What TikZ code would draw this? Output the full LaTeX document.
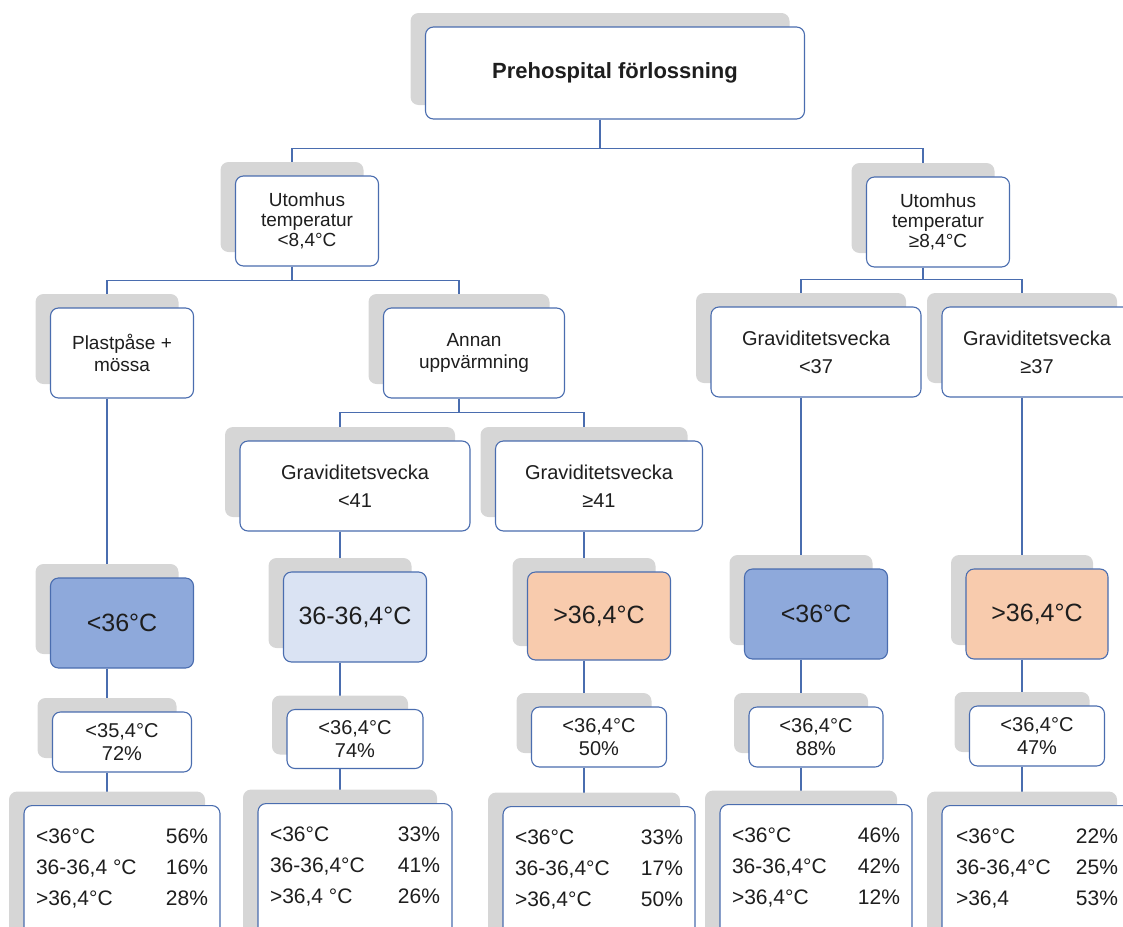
\documentclass[tikz,border=0pt]{standalone}
\usepackage{fontspec}
\setmainfont{Liberation Sans}
\usetikzlibrary{shadows, backgrounds, positioning}
\definecolor{linje}{HTML}{4A6DAF}
\definecolor{skugga}{HTML}{D6D6D6}
\definecolor{kall}{HTML}{8EA9DB}
\definecolor{ljus}{HTML}{DAE3F3}
\definecolor{varm}{HTML}{F8CBAD}
\definecolor{skrift}{HTML}{1E1E1E}
\renewcommand{\arraystretch}{1.476}

\begin{document}
\begin{tikzpicture}[x=1pt, y=-1pt,
	box/.style={draw=linje, line width=1.1pt, fill=white, rounded corners=8pt, text=skrift, inner sep=0pt,
		drop shadow={shadow xshift=-15pt, shadow yshift=14pt, fill=skugga, opacity=1}},
	lvl/.style={box, align=center, minimum height=90pt, font=\fontsize{19}{20}\selectfont},
	grav/.style={box, align=center, minimum height=90pt, font=\fontsize{20}{21}\selectfont},
	temp/.style={box, minimum width=143pt, minimum height=90pt, font=\fontsize{25}{30}\selectfont},
	andel/.style={box, align=center, minimum width=136pt, minimum height=60pt, font=\fontsize{20}{23}\selectfont},
	tabell/.style={box, anchor=north, inner xsep=12pt, inner ysep=16pt, text depth=110pt, font=\fontsize{21}{21}\selectfont},
	bus/.style={to path={-- ++(0,#1) -| (\tikztotarget)}},
	every edge/.style={draw=linje, line width=1.1pt}]

	\path[use as bounding box, clip] (0,0) rectangle (1123,926);

	\node[box, minimum width=379pt, minimum height=92pt, font=\fontsize{22}{26}\selectfont\bfseries] (1) at (615,73) {Prehospital förlossning};

	\node[lvl, minimum width=143pt] (2) at (307,221) {Utomhus\\temperatur\\<8,4°C};
	\node[lvl, minimum width=143pt] (3) at (938,222) {Utomhus\\temperatur\\≥8,4°C};

	\node[lvl, minimum width=143pt, font=\fontsize{19}{22}\selectfont] (4) at (122,353) {Plastpåse +\\mössa};
	\node[lvl, minimum width=181pt, font=\fontsize{19}{22}\selectfont] (5) at (474,353) {Annan\\uppvärmning};
	\node[grav, minimum width=210pt] (6) at (816,352) {Graviditetsvecka\\[7pt]<37};
	\node[grav, minimum width=190pt] (7) at (1037,352) {Graviditetsvecka\\[7pt]≥37};

	\node[grav, minimum width=230pt] (8) at (355,486) {Graviditetsvecka\\[7pt]<41};
	\node[grav, minimum width=207pt] (9) at (599,486) {Graviditetsvecka\\[7pt]≥41};

	\node[temp, fill=kall] (10) at (122,623) {<36°C};
	\node[temp, fill=ljus] (11) at (355,617) {36-36,4°C};
	\node[temp, fill=varm, minimum height=88pt] (12) at (599,616) {>36,4°C};
	\node[temp, fill=kall] (13) at (816,614) {<36°C};
	\node[temp, fill=varm, minimum width=142pt] (14) at (1037,614) {>36,4°C};

	\node[andel, minimum width=139pt] (15) at (122,742) {<35,4°C\\72\%};
	\node[andel, minimum height=59pt] (16) at (355,739) {<36,4°C\\74\%};
	\node[andel, minimum width=135pt] (17) at (599,737) {<36,4°C\\50\%};
	\node[andel, minimum width=134pt] (18) at (816,737) {<36,4°C\\88\%};
	\node[andel, minimum width=135pt] (19) at (1037,736) {<36,4°C\\47\%};

	\node[tabell] (20) at (122,805) {\begin{tabular*}{172pt}[t]{@{}l@{\extracolsep{\fill}}r@{}}
		<36°C & 56\%\\ 36-36,4 °C & 16\%\\ >36,4°C & 28\%\end{tabular*}};
	\node[tabell] (21) at (355,803) {\begin{tabular*}{170pt}[t]{@{}l@{\extracolsep{\fill}}r@{}}
		<36°C & 33\%\\ 36-36,4°C & 41\%\\ >36,4 °C & 26\%\end{tabular*}};
	\node[tabell] (22) at (599,806) {\begin{tabular*}{168pt}[t]{@{}l@{\extracolsep{\fill}}r@{}}
		<36°C & 33\%\\ 36-36,4°C & 17\%\\ >36,4°C & 50\%\end{tabular*}};
	\node[tabell] (23) at (816,804) {\begin{tabular*}{168pt}[t]{@{}l@{\extracolsep{\fill}}r@{}}
		<36°C & 46\%\\ 36-36,4°C & 42\%\\ >36,4°C & 12\%\end{tabular*}};
	\node[tabell, inner xsep=14pt] (24) at (1037,805) {\begin{tabular*}{162pt}[t]{@{}l@{\extracolsep{\fill}}r@{}}
		<36°C & 22\%\\ 36-36,4°C & 25\%\\ >36,4 & 53\%\end{tabular*}};

	\begin{scope}[on background layer]
	\path
	([xshift=-15pt]1.south) edge [bus=29] ([xshift=-15pt]2.center)
	([xshift=-15pt]1.south) edge [bus=29] ([xshift=-15pt]3.center)

	([xshift=-15pt]2.south) edge [bus=14] ([xshift=-15pt]4.center)
	([xshift=-15pt]2.south) edge [bus=14] ([xshift=-15pt]5.center)

	([xshift=-15pt]3.south) edge [bus=12] ([xshift=-15pt]6.center)
	([xshift=-15pt]3.south) edge [bus=12] ([xshift=-15pt]7.center)

	([xshift=-15pt]5.south) edge [bus=14] ([xshift=-15pt]8.center)
	([xshift=-15pt]5.south) edge [bus=14] ([xshift=-15pt]9.center)

	([xshift=-15pt]4.south) edge ([xshift=-15pt]10.center)
	([xshift=-15pt]8.south) edge ([xshift=-15pt]11.center)
	([xshift=-15pt]9.south) edge ([xshift=-15pt]12.center)
	([xshift=-15pt]6.south) edge ([xshift=-15pt]13.center)
	([xshift=-15pt]7.south) edge ([xshift=-15pt]14.center)

	([xshift=-15pt]10.south) edge ([xshift=-15pt]15.center)
	([xshift=-15pt]11.south) edge ([xshift=-15pt]16.center)
	([xshift=-15pt]12.south) edge ([xshift=-15pt]17.center)
	([xshift=-15pt]13.south) edge ([xshift=-15pt]18.center)
	([xshift=-15pt]14.south) edge ([xshift=-15pt]19.center)

	([xshift=-15pt]15.south) edge ([xshift=-15pt]20.center)
	([xshift=-15pt]16.south) edge ([xshift=-15pt]21.center)
	([xshift=-15pt]17.south) edge ([xshift=-15pt]22.center)
	([xshift=-15pt]18.south) edge ([xshift=-15pt]23.center)
	([xshift=-15pt]19.south) edge ([xshift=-15pt]24.center);
	\end{scope}

\end{tikzpicture}
\end{document}
